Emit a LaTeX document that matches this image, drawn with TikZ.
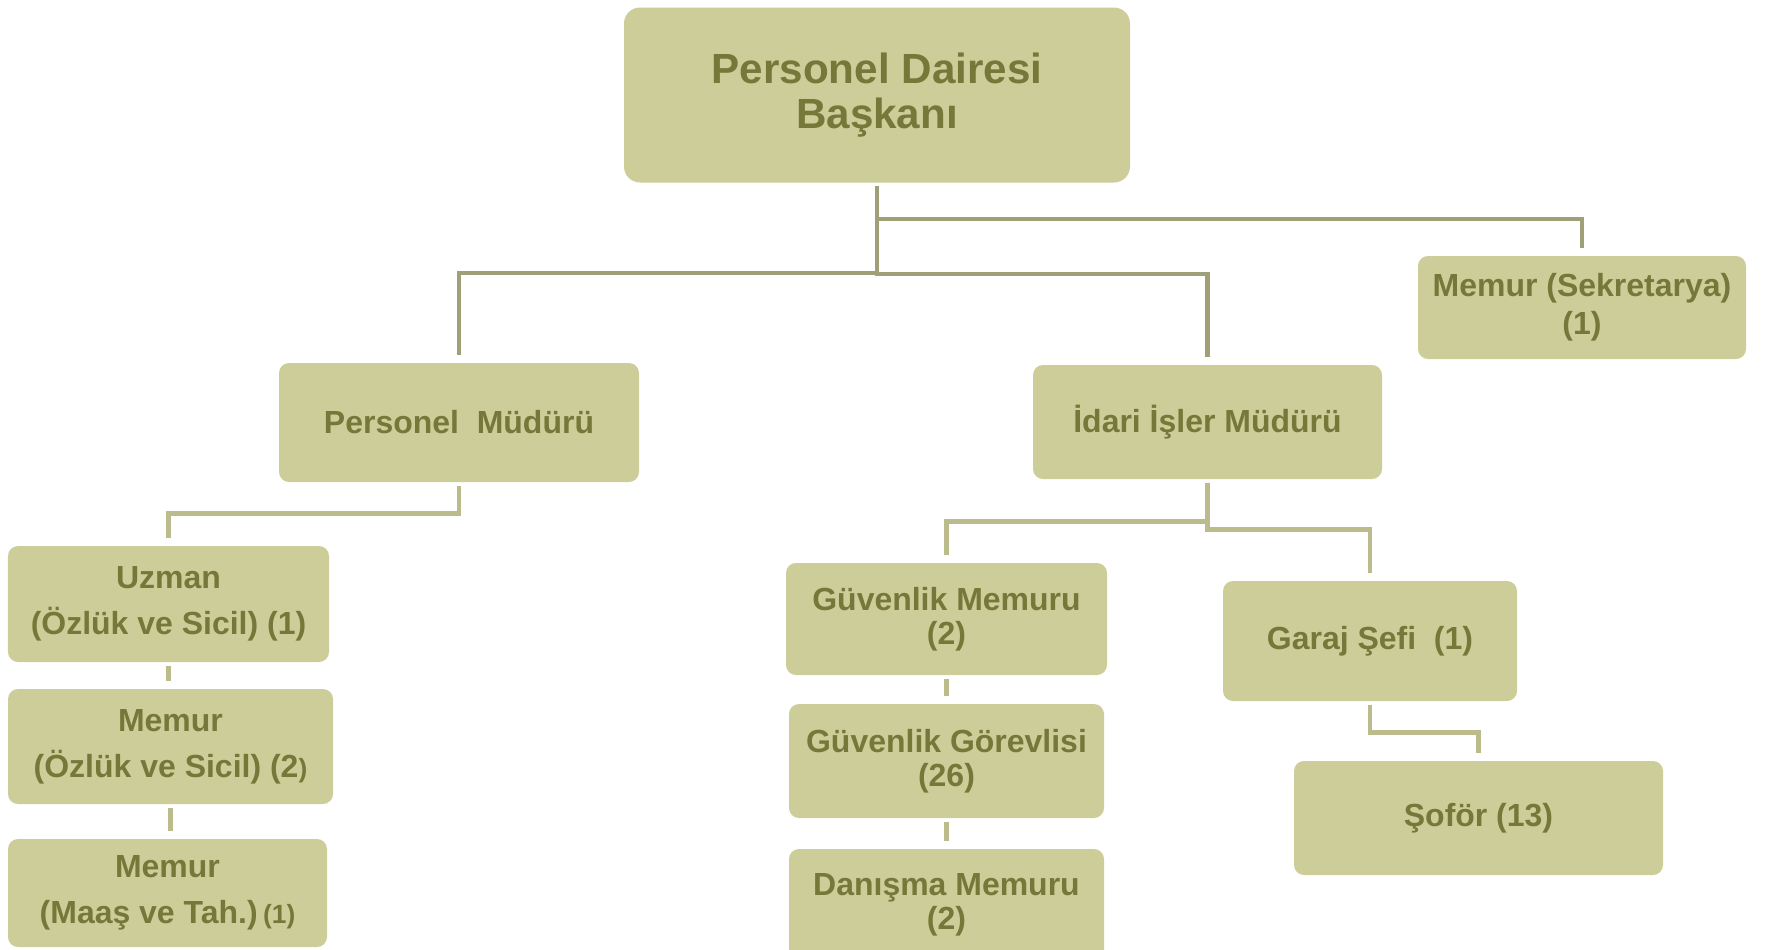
\documentclass[tikz,border=0pt]{standalone}
\usepackage{fontspec}
\setmainfont{Liberation Sans}
\usepackage{xcolor}
\usetikzlibrary{
    arrows.meta,
    shapes,
    positioning,
    calc
}
\definecolor{boxfill}{HTML}{CDCD9A}
\definecolor{boxtext}{HTML}{77773A}
\definecolor{linkdark}{HTML}{A0A078}
\definecolor{linklight}{HTML}{BBBB8B}
\tikzset{%
    % Specifications for style of nodes:
    base/.style = {
        rectangle, rounded corners=0.1cm, draw=none,
        fill=boxfill, text=boxtext, inner sep=0pt,
        text centered, align=center,
        font=\fontsize{9.1}{9.6}\selectfont\bfseries
    },
    head/.style = {base, rounded corners=0.16cm,
        font=\fontsize{12}{12.8}\selectfont\bfseries},
    wide/.style = {base, font=\fontsize{9.1}{13}\selectfont\bfseries},
    % Specifications for style of connectors:
    link/.style = {draw=linklight, line width=1.3pt,
        shorten <=0.03cm, shorten >=0.07cm},
    linkhi/.style = {link, draw=linkdark}
}

\begin{document}
\begin{tikzpicture}
    \useasboundingbox (0,0) rectangle (17.66,-9.49);
    \node[head, minimum width=5.06cm, minimum height=1.75cm] (PDB) at (8.77,-0.95) {Personel Dairesi\\Başkanı};
    \node[base, minimum width=3.60cm, minimum height=1.19cm] (PM) at (4.59,-4.225) {Personel~ Müdürü};
    \node[base, minimum width=3.49cm, minimum height=1.14cm] (IIM) at (12.075,-4.22) {İdari İşler Müdürü};
    \node[base, minimum width=3.28cm, minimum height=1.03cm,
          font=\fontsize{9.1}{10.7}\selectfont\bfseries] (MS) at (15.82,-3.075) {Memur (Sekretarya)\\(1)};
    \node[wide, minimum width=3.21cm, minimum height=1.16cm] (UZ) at (1.685,-6.04) {Uzman\\(Özlük ve Sicil) (1)};
    \node[wide, minimum width=3.25cm, minimum height=1.15cm] (MOS) at (1.705,-7.465) {Memur\\(Özlük ve Sicil) (2{\fontsize{7.5}{7.5}\selectfont)}};
    \node[wide, minimum width=3.19cm, minimum height=1.08cm] (MMT) at (1.675,-8.93) {Memur\\(Maaş ve Tah.)\,{\fontsize{7.5}{7.5}\selectfont(1)}};
    \node[base, minimum width=3.21cm, minimum height=1.12cm] (GM) at (9.465,-6.19) {Güvenlik Memuru\\(2)};
    \node[base, minimum width=3.15cm, minimum height=1.14cm] (GG) at (9.465,-7.61) {Güvenlik Görevlisi\\(26)};
    \node[base, minimum width=3.15cm, minimum height=1.11cm] (DM) at (9.465,-9.045) {Danışma Memuru\\(2)};
    \node[base, minimum width=2.94cm, minimum height=1.20cm] (GS) at (13.70,-6.41) {Garaj Şefi~ (1)};
    \node[base, minimum width=3.69cm, minimum height=1.14cm] (SF) at (14.785,-8.18) {Şoför (13)};

    \draw[linkhi] (PDB.south) -- ++(0,-0.36) -| (MS.north);
    \draw[linkhi] (PDB.south) -- ++(0,-0.90) -| (PM.north);
    \draw[linkhi] (PDB.south) -- ++(0,-0.91) -| (IIM.north);
    \draw[link] (PM.south) -- ++(0,-0.31) -| (UZ.north);
    \draw[link] (UZ.south) -- (UZ.south |- MOS.north);
    \draw[link] (MOS.south) -- (MOS.south |- MMT.north);
    \draw[link] (IIM.south) -- ++(0,-0.42) -| (GM.north);
    \draw[link] (IIM.south) -- ++(0,-0.50) -| (GS.north);
    \draw[link] (GM.south) -- (GG.north);
    \draw[link] (GG.south) -- (DM.north);
    \draw[link] (GS.south) -- ++(0,-0.31) -| (SF.north);
\end{tikzpicture}
\end{document}
